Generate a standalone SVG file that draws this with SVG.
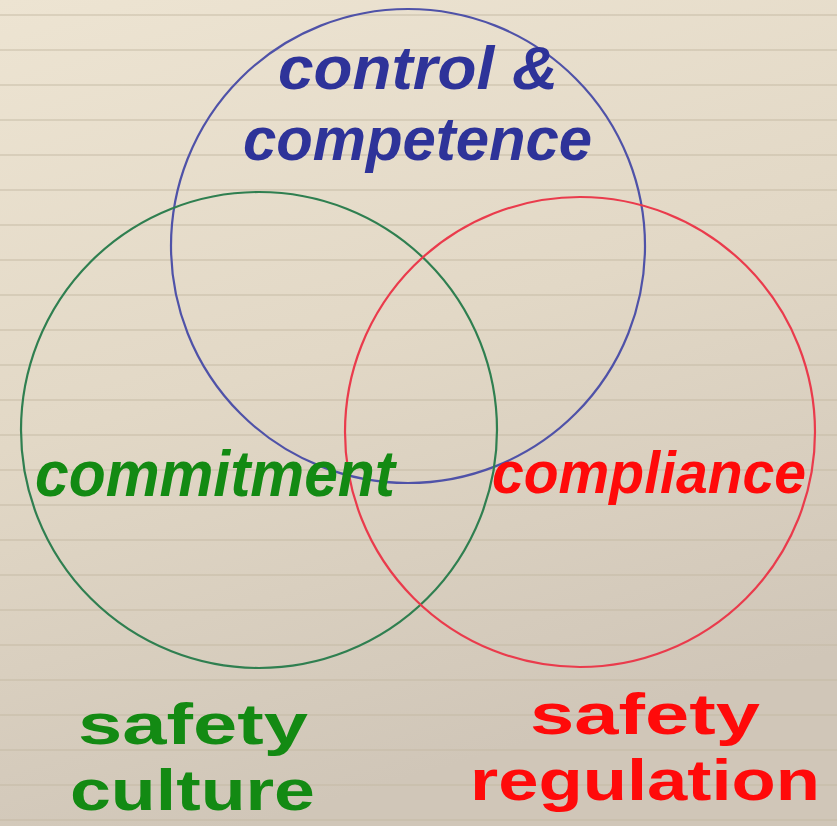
<svg xmlns="http://www.w3.org/2000/svg" width="837" height="826" viewBox="0 0 837 826">
  <defs>
    <linearGradient id="paper" x1="0" y1="0" x2="0.3" y2="1">
      <stop offset="0" stop-color="#ede4d2"/>
      <stop offset="0.5" stop-color="#e2d8c6"/>
      <stop offset="1" stop-color="#d0c6b8"/>
    </linearGradient>
    <pattern id="lines" x="0" y="0" width="837" height="35" patternUnits="userSpaceOnUse">
      <rect x="0" y="14" width="837" height="2" fill="#c4b9a3" opacity="0.45"/>
    </pattern>
  </defs>
  <style>
    .ring { fill: none; stroke-width: 2.2; }
    .lbl { font-family: "Comic Sans MS", "Liberation Sans", Arial, sans-serif; font-weight: bold; }
    .it { font-style: italic; }
  </style>
  <rect width="837" height="826" fill="url(#paper)"/>
  <rect width="837" height="826" fill="url(#lines)"/>

  <g id="circle-blue"><circle class="ring" cx="408" cy="246" r="237" stroke="#4f52a8"/></g>
  <g id="circle-green"><circle class="ring" cx="259" cy="430" r="238" stroke="#2f7f50"/></g>
  <g id="circle-red"><circle class="ring" cx="580" cy="432" r="235" stroke="#ea3b4c"/></g>

  <g id="label-control" class="lbl it" fill="#2e3399" font-size="62">
    <text x="278" y="89" textLength="280" lengthAdjust="spacingAndGlyphs">control &amp;</text>
    <text x="243" y="160" textLength="349" lengthAdjust="spacingAndGlyphs">competence</text>
  </g>
  <g id="label-commitment" class="lbl it" fill="#138a13" font-size="64">
    <text x="35" y="496" textLength="360" lengthAdjust="spacingAndGlyphs">commitment</text>
  </g>
  <g id="label-compliance" class="lbl it" fill="#ff0a0a" font-size="60">
    <text x="492" y="493" textLength="314" lengthAdjust="spacingAndGlyphs">compliance</text>
  </g>
  <g id="label-culture" class="lbl" fill="#138a13" font-size="57">
    <text x="78" y="744" textLength="230" lengthAdjust="spacingAndGlyphs">safety</text>
    <text x="70" y="810" textLength="245" lengthAdjust="spacingAndGlyphs">culture</text>
  </g>
  <g id="label-regulation" class="lbl" fill="#ff0a0a" font-size="57">
    <text x="530" y="734" textLength="230" lengthAdjust="spacingAndGlyphs">safety</text>
    <text x="470" y="800" textLength="350" lengthAdjust="spacingAndGlyphs">regulation</text>
  </g>
</svg>
